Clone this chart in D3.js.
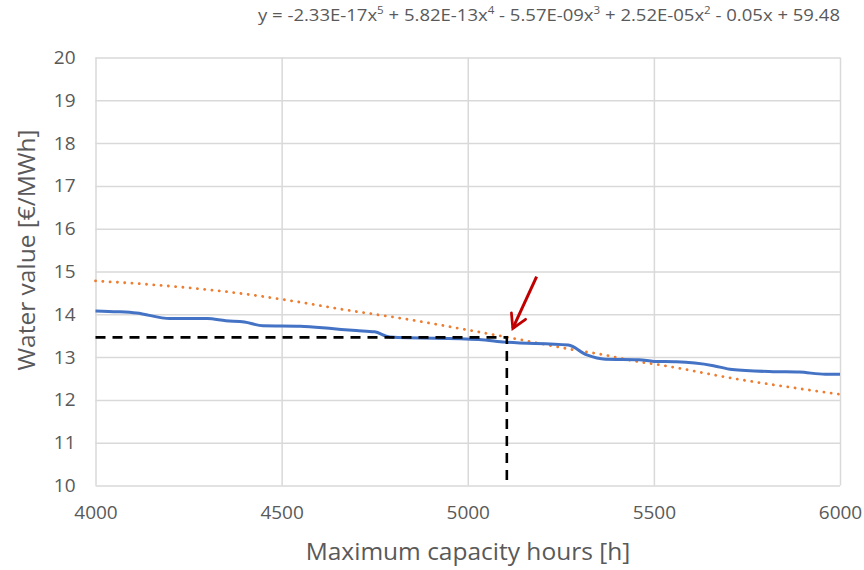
<!DOCTYPE html>
<html>
<head>
<meta charset="utf-8">
<script src="https://cdn.jsdelivr.net/npm/d3@7"></script>
<style>
  body { margin: 0; background: #fff; }
  text { font-family: "Open Sans", sans-serif; fill: #595959; }
</style>
</head>
<body>
<div class="chart"></div>
<script>
// water value curve
var hours = [4000, 4060, 4110, 4200, 4300, 4350, 4400, 4450, 4550, 4640, 4700, 4750, 4790,
  5030, 5100, 5270, 5320, 5370, 5460, 5500, 5560, 5610, 5660, 5710, 5820, 5890, 5960, 6000];
var waterValue = [14.08, 14.06, 14.03, 13.90, 13.90, 13.85, 13.82, 13.73, 13.72, 13.66, 13.62, 13.59, 13.47,
  13.41, 13.35, 13.28, 13.05, 12.95, 12.94, 12.90, 12.89, 12.86, 12.80, 12.71, 12.66, 12.65, 12.60, 12.60];

// polynomial trend line
var trendHours = [4000, 4170, 4350, 4530, 4660, 4840, 5015, 5115, 5285, 5355, 5460, 5500, 5715, 6000];
var trendValue = [14.78, 14.68, 14.53, 14.31, 14.12, 13.88, 13.61, 13.45, 13.17, 13.07, 12.89, 12.84, 12.50, 12.13];

var xTicks = [4000, 4500, 5000, 5500, 6000];
var yTicks = [10, 11, 12, 13, 14, 15, 16, 17, 18, 19, 20];

// marked point and arrow
var markHours = 5105;
var markValue = 13.46;
var arrowFrom = [5185, 14.88];
var arrowTo = [5121, 13.67];

var sup = s => `<tspan dy="-7" font-size="10">${s}</tspan><tspan dy="7">`;
var equation = "y = -2.33E-17x" + sup(5) + " + 5.82E-13x</tspan>" + sup(4) + " - 5.57E-09x</tspan>" +
  sup(3) + " + 2.52E-05x</tspan>" + sup(2) + " - 0.05x + 59.48</tspan>";

var svgWidth = 864;
var svgHeight = 570;
var margin = { top: 57.5, right: 24, bottom: 84.5, left: 95.5 };
var width = svgWidth - margin.left - margin.right;
var height = svgHeight - margin.top - margin.bottom;

var svg = d3.select(".chart").append("svg")
  .attr("width", svgWidth)
  .attr("height", svgHeight);

var defs = svg.append("defs");
defs.append("marker")
  .attr("id", "arrowhead")
  .attr("viewBox", "0 0 10 10")
  .attr("refX", 8)
  .attr("refY", 5)
  .attr("markerWidth", 6.5)
  .attr("markerHeight", 6.5)
  .attr("markerUnits", "strokeWidth")
  .attr("orient", "auto")
  .append("path")
  .attr("d", "M1,1 L8,5 L1,9")
  .attr("fill", "none")
  .attr("stroke", "#C00000")
  .attr("stroke-width", 1.4)
  .attr("stroke-linecap", "round");

var chartGroup = svg.append("g")
  .attr("transform", `translate(${margin.left}, ${margin.top})`);

var x = d3.scaleLinear().domain([4000, 6000]).range([0, width]);
var y = d3.scaleLinear().domain([10, 20]).range([height, 0]);

// gridlines
chartGroup.append("g")
  .call(d3.axisLeft(y).tickValues(yTicks).tickSize(-width).tickFormat(""))
  .call(g => g.select(".domain").remove())
  .selectAll("line").attr("stroke", "#D9D9D9").attr("stroke-width", 1.5);

chartGroup.append("g")
  .attr("transform", `translate(0, ${height})`)
  .call(d3.axisBottom(x).tickValues(xTicks).tickSize(-height).tickFormat(""))
  .call(g => g.select(".domain").remove())
  .selectAll("line").attr("stroke", "#D9D9D9").attr("stroke-width", 1.5);

// tick labels
var leftAxis = chartGroup.append("g")
  .call(d3.axisLeft(y).tickValues(yTicks).tickSize(0).tickPadding(20).tickFormat(d3.format("d")));
leftAxis.select(".domain").remove();
leftAxis.selectAll("text")
  .attr("font-size", 19)
  .attr("font-family", "Open Sans")
  .attr("fill", "#595959");

var bottomAxis = chartGroup.append("g")
  .attr("transform", `translate(0, ${height})`)
  .call(d3.axisBottom(x).tickValues(xTicks).tickSize(0).tickPadding(20).tickFormat(d3.format("d")));
bottomAxis.select(".domain").remove();
bottomAxis.selectAll("text")
  .attr("font-size", 19)
  .attr("font-family", "Open Sans")
  .attr("fill", "#595959");

// trend line (dotted)
chartGroup.append("path")
  .datum(trendHours.map((h, i) => [h, trendValue[i]]))
  .attr("fill", "none")
  .attr("stroke", "#ED7D31")
  .attr("stroke-width", 2.8)
  .attr("stroke-linecap", "round")
  .attr("stroke-dasharray", "0.1 7.2")
  .attr("d", d3.line().x(d => x(d[0])).y(d => y(d[1])).curve(d3.curveMonotoneX));

// water value line
chartGroup.append("path")
  .datum(hours.map((h, i) => [h, waterValue[i]]))
  .attr("fill", "none")
  .attr("stroke", "#4472C4")
  .attr("stroke-width", 3)
  .attr("stroke-linejoin", "round")
  .attr("d", d3.line().x(d => x(d[0])).y(d => y(d[1])).curve(d3.curveMonotoneX));

// dashed reference lines
chartGroup.append("path")
  .attr("fill", "none")
  .attr("stroke", "#000")
  .attr("stroke-width", 2.6)
  .attr("stroke-dasharray", "10 7")
  .attr("d", d3.line()([[x(4000), y(markValue)], [x(markHours), y(markValue)], [x(markHours), y(10)]]));

// arrow
chartGroup.append("line")
  .attr("x1", x(arrowFrom[0]))
  .attr("y1", y(arrowFrom[1]))
  .attr("x2", x(arrowTo[0]))
  .attr("y2", y(arrowTo[1]))
  .attr("stroke", "#C00000")
  .attr("stroke-width", 3)
  .attr("marker-end", "url(#arrowhead)");

// axis titles
svg.append("text")
  .attr("x", 468)
  .attr("y", 560)
  .attr("text-anchor", "middle")
  .attr("font-size", 24.5)
  .text("Maximum capacity hours [h]");

svg.append("text")
  .attr("transform", "translate(35, 250) rotate(-90)")
  .attr("text-anchor", "middle")
  .attr("font-size", 24.5)
  .text("Water value [€/MWh]");

// trend equation
svg.append("text")
  .attr("x", 258)
  .attr("y", 21)
  .attr("font-size", 16)
  .attr("fill", "#404040")
  .attr("textLength", 582)
  .attr("lengthAdjust", "spacingAndGlyphs")
  .html(equation);
</script>
</body>
</html>
